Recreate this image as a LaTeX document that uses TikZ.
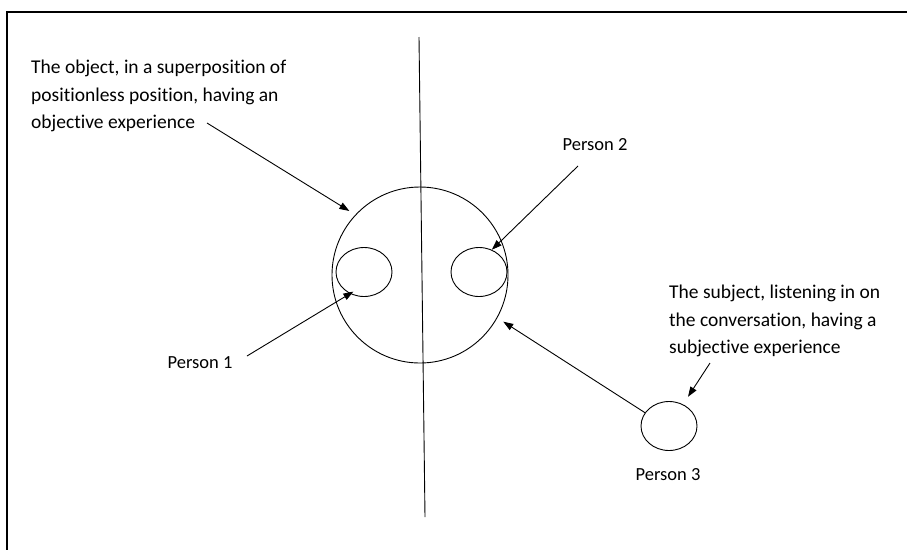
\documentclass[tikz,border=0pt]{standalone}
\usepackage{fontspec}
\setmainfont[Ligatures={NoCommon}]{Carlito}
\usetikzlibrary{arrows.meta,positioning,shapes.geometric}

\begin{document}
\begin{tikzpicture}[x=1pt, y=-1pt,
  font=\fontsize{18.5}{27.5}\selectfont,
  person/.style={draw, ellipse, line width=0.9pt, minimum width=56pt,
                 minimum height=49pt, inner sep=0pt},
  notetext/.style={inner sep=0pt, align=left, anchor=north west,
                   font=\fontsize{19.5}{27.5}\selectfont},
  namelbl/.style={inner sep=0pt, anchor=base},
  pointer/.style={line width=0.9pt, -{Triangle[length=10pt,width=7pt]}}]
\useasboundingbox (0,0) rectangle (907,550);
% ---- page frame (cropped) -----------------------------------------
\draw[line width=2pt] (907,12) -- (7,12) -- (7,550);
% ---- dividing line ------------------------------------------------
\coordinate (cuttop) at (419,37);
\coordinate (cutbot) at (425,517);
\draw[line width=0.9pt] (cuttop) -- (cutbot);
% ---- the object and the two persons inside it ----------------------
\node[draw, circle, line width=0.9pt, minimum size=176pt, inner sep=0pt]
      (world) at (420,275) {};
\node[person] (p1) at (364,272) {};
\node[person] (p2) at (479,272) {};
% ---- the listener outside -----------------------------------------
\node[person] (p3) at (669,426) {};
% ---- labels -------------------------------------------------------
\node[notetext] (objnote) at (31,60)
      {The object, in a superposition of\\positionless position, having an\\objective experience};
\node[notetext] (subjnote) at (669,285)
      {The subject, listening in on\\the conversation, having a\\subjective experience};
\node[namelbl] (p1lbl) at (200,368) {Person 1};
\node[namelbl] (p2lbl) at (595,150) {Person 2};
\node[namelbl] (p3lbl) at (668,480) {Person 3};
% ---- pointers -----------------------------------------------------
\coordinate (objtail) at (207,123);
\coordinate (p1tail) at (247,356);
\coordinate (p2tail) at (578,166);
\coordinate (subjtail) at (710,363);
\draw[pointer, shorten >=7pt] (objtail) -- (world.137);
\draw[pointer, shorten >=-4pt] (p1tail) -- (p1.237);
\draw[pointer] (p2tail) -- (p2.60);
\draw[pointer, shorten >=7pt] (p3.151) -- (world.-29.5);
\draw[pointer, shorten >=9pt] (subjtail) -- (p3.57);
\end{tikzpicture}
\end{document}
